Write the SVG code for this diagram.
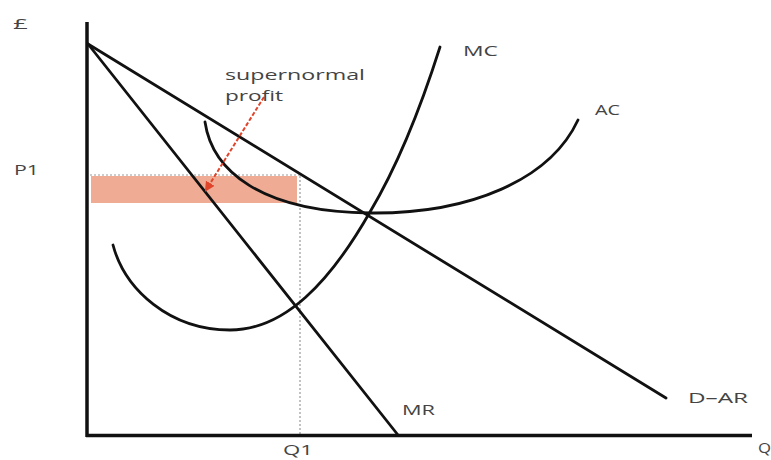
<svg xmlns="http://www.w3.org/2000/svg" width="771" height="460" viewBox="0 0 771 460">
<style>
.lbl{font-family:"Open Sans","Liberation Sans",sans-serif;font-size:14px;fill:#444}
.curve{fill:none;stroke:#111;stroke-width:2.8;stroke-linecap:round}
.axis{fill:none;stroke:#111;stroke-width:3.5}
.dot{fill:none;stroke:#999;stroke-width:1.2;stroke-dasharray:2 2}
</style>
<defs>
<marker id="ah" viewBox="0 0 10 10" refX="8" refY="5" markerWidth="5" markerHeight="5" orient="auto">
<path d="M0,0 L10,5 L0,10 z" fill="#e0442a"/>
</marker>
</defs>
<rect width="771" height="460" fill="#fff"/>
<g id="profit-area">
<rect x="91" y="176" width="206" height="27" fill="#efab94"/>
</g>
<g id="guides">
<line class="dot" x1="90" y1="175" x2="300" y2="175"/>
<line class="dot" x1="300" y1="176" x2="300" y2="434"/>
</g>
<g id="axes">
<line class="axis" x1="87" y1="22" x2="87" y2="437"/>
<line class="axis" x1="86" y1="435.5" x2="752" y2="435.5"/>
</g>
<g id="connectors">
<path id="d-ar" class="curve" d="M88,44 L666,398"/>
<path id="mr" class="curve" d="M88,44 L398,435"/>
<path id="mc" class="curve" d="M113,245 C125,290 170,330 230,330 C285,330 330,282 370,212 C395,170 420,110 440,47"/>
<path id="ac" class="curve" d="M205,122 C212,170 260,212 370,213 C470,214 550,180 578,120"/>
<line id="arrow" x1="264" y1="97" x2="206" y2="190" stroke="#e0442a" stroke-width="2" stroke-dasharray="4 2" marker-end="url(#ah)"/>
</g>
<g id="labels">
<text class="lbl" x="13" y="29" textLength="15" lengthAdjust="spacingAndGlyphs">£</text>
<text class="lbl" x="14" y="175" textLength="25" lengthAdjust="spacingAndGlyphs">P1</text>
<text class="lbl" x="283" y="455" textLength="30" lengthAdjust="spacingAndGlyphs">Q1</text>
<text class="lbl" x="758" y="453" textLength="13" lengthAdjust="spacingAndGlyphs">Q</text>
<text class="lbl" x="463" y="56" textLength="35" lengthAdjust="spacingAndGlyphs">MC</text>
<text class="lbl" x="595" y="115" textLength="25" lengthAdjust="spacingAndGlyphs">AC</text>
<text class="lbl" x="688" y="403" textLength="60" lengthAdjust="spacingAndGlyphs">D–AR</text>
<text class="lbl" x="402" y="415" textLength="33" lengthAdjust="spacingAndGlyphs">MR</text>
<text class="lbl" x="225" y="80" textLength="140" lengthAdjust="spacingAndGlyphs">supernormal</text>
<text class="lbl" x="225" y="101" textLength="58" lengthAdjust="spacingAndGlyphs">profit</text>
</g>
</svg>
